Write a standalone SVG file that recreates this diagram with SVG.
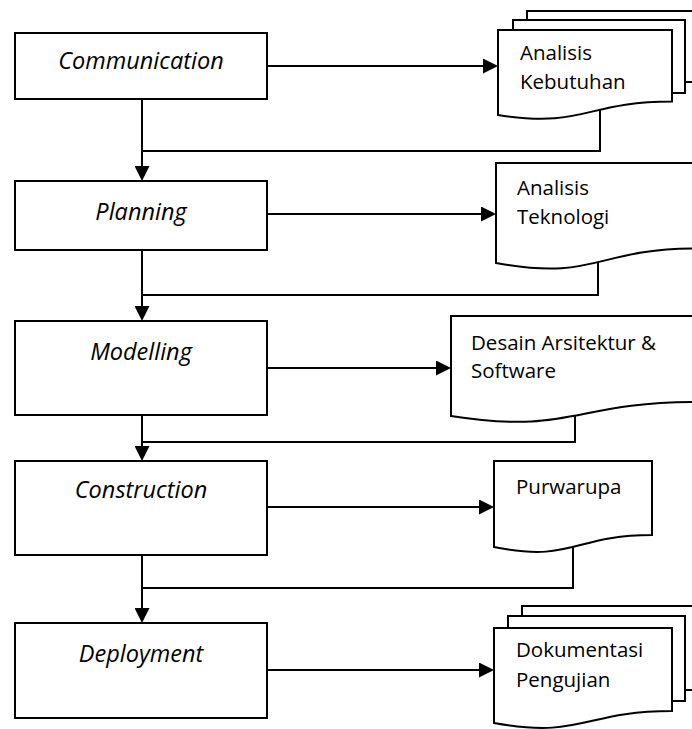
<svg xmlns="http://www.w3.org/2000/svg" width="692" height="729" viewBox="0 0 692 729">
  <style>
    .box { fill: #ffffff; stroke: #000000; stroke-width: 2; }
    .doc { fill: #ffffff; stroke: #000000; stroke-width: 2; stroke-linejoin: miter; }
    .conn { fill: none; stroke: #000000; stroke-width: 2; stroke-linejoin: miter; }
    .lbl { font-family: "Open Sans", "Noto Sans", "DejaVu Sans", sans-serif; font-style: italic; font-size: 23.5px; fill: #000000; text-anchor: middle; }
    .dlbl { font-family: "Open Sans", "Noto Sans", "DejaVu Sans", sans-serif; font-size: 20.5px; fill: #000000; }
  </style>
  <defs>
    <marker id="arrow" markerUnits="userSpaceOnUse" markerWidth="15" markerHeight="15" refX="7" refY="7.5" orient="auto" viewBox="0 0 15 15">
      <path d="M0,0 L15,7.5 L0,15 Z" fill="#000000"/>
    </marker>
  </defs>
  <rect width="692" height="729" fill="#ffffff"/>

  <g id="connectors">
    <path class="conn" d="M142,99 V173" marker-end="url(#arrow)"/>
    <path class="conn" d="M142,250 V313" marker-end="url(#arrow)"/>
    <path class="conn" d="M142,415 V453" marker-end="url(#arrow)"/>
    <path class="conn" d="M142,555 V615" marker-end="url(#arrow)"/>
    <path class="conn" d="M267,66 H490" marker-end="url(#arrow)"/>
    <path class="conn" d="M267,214 H488" marker-end="url(#arrow)"/>
    <path class="conn" d="M267,368 H443" marker-end="url(#arrow)"/>
    <path class="conn" d="M267,507 H486" marker-end="url(#arrow)"/>
    <path class="conn" d="M267,670 H486" marker-end="url(#arrow)"/>
    <path class="conn" d="M600,105 V151 H142"/>
    <path class="conn" d="M598,255 V295 H142"/>
    <path class="conn" d="M575,410 V442 H142"/>
    <path class="conn" d="M573,540 V588 H142"/>
  </g>

  <g id="communication">
    <rect class="box" x="15" y="33" width="252" height="66"/>
    <text class="lbl" x="141" y="69">Communication</text>
  </g>
  <g id="planning">
    <rect class="box" x="15" y="181" width="252" height="69"/>
    <text class="lbl" x="141" y="220">Planning</text>
  </g>
  <g id="modelling">
    <rect class="box" x="15" y="321" width="252" height="94"/>
    <text class="lbl" x="141" y="360">Modelling</text>
  </g>
  <g id="construction">
    <rect class="box" x="15" y="461" width="252" height="94"/>
    <text class="lbl" x="141" y="498">Construction</text>
  </g>
  <g id="deployment">
    <rect class="box" x="15" y="623" width="252" height="95"/>
    <text class="lbl" x="141" y="662">Deployment</text>
  </g>

  <g id="analisis-kebutuhan">
    <rect class="doc" x="527" y="11" width="180" height="71"/>
    <rect class="doc" x="513" y="20" width="172" height="73"/>
    <path class="doc" d="M498,30 H672 V101.5 C585,101.5 585,128.5 498,115 Z"/>
    <text class="dlbl" x="520" y="60">Analisis</text>
    <text class="dlbl" x="520" y="89">Kebutuhan</text>
  </g>
  <g id="analisis-teknologi">
    <path class="doc" d="M496,163 H696 V248.5 C596,248.5 596,281.5 496,263 Z"/>
    <text class="dlbl" x="517" y="195">Analisis</text>
    <text class="dlbl" x="517" y="224">Teknologi</text>
  </g>
  <g id="desain-arsitektur">
    <path class="doc" d="M451,316 H696 V402 C573,402 573,435 451,416 Z"/>
    <text class="dlbl" x="471" y="350">Desain Arsitektur &amp;</text>
    <text class="dlbl" x="471" y="378">Software</text>
  </g>
  <g id="purwarupa">
    <path class="doc" d="M494,461 H652 V535 C573,535 573,563 494,547 Z"/>
    <text class="dlbl" x="516" y="494">Purwarupa</text>
  </g>
  <g id="dokumentasi-pengujian">
    <rect class="doc" x="522" y="606" width="190" height="84"/>
    <rect class="doc" x="508" y="616" width="177" height="85"/>
    <path class="doc" d="M494,628 H672 V711 C583,711 583,739 494,723 Z"/>
    <text class="dlbl" x="516" y="657">Dokumentasi</text>
    <text class="dlbl" x="516" y="687">Pengujian</text>
  </g>
</svg>
